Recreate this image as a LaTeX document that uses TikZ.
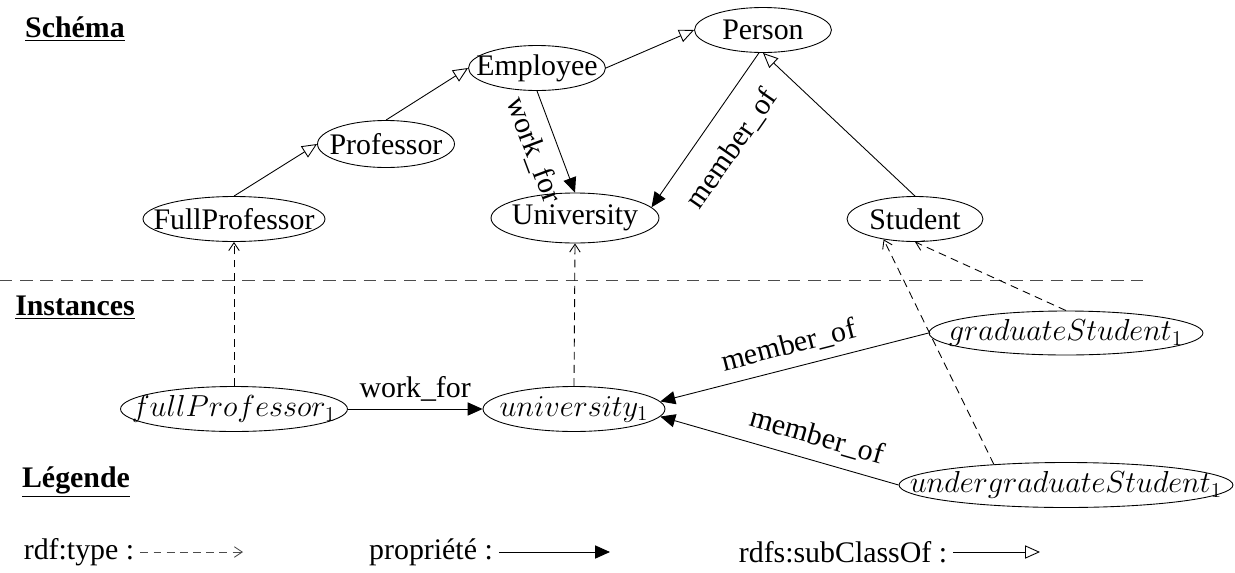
\documentclass[tikz,border=0pt]{standalone}
\usepackage{fontspec}
\setmainfont{Liberation Serif}
\newfontfamily\timesfont{Liberation Serif}
\usetikzlibrary{shapes.geometric,arrows.meta}

\newcommand{\lbl}[1]{\makebox[0pt]{#1}}

\begin{document}
\begin{tikzpicture}[x=0.02cm,y=-0.02cm,
  font=\timesfont\fontsize{17}{20}\selectfont,
  cls/.style={ellipse,draw,line width=0.5pt,inner sep=0pt,minimum height=0.9cm},
  subclass/.style={line width=0.5pt,-{Triangle[open,length=8.5pt,width=7.5pt]}},
  prop/.style={line width=0.5pt,-{Triangle[length=8.5pt,width=7.5pt]}},
  rdftype/.style={line width=0.5pt,dash pattern=on 4.5pt off 3pt,-{Straight Barb[length=4.5pt,width=6pt]}},
  title/.style={font=\timesfont\fontsize{17}{20}\selectfont\bfseries}]
  \useasboundingbox (0,0) rectangle (1235,572);

  % section titles
  \node[title] (schema) at (75,29) {\underline{Schéma}};
  \node[title] (instances) at (75,308) {\underline{Instances}};
  \node[title] (legende) at (76,482) {\underline{Légende}};
  \draw[gray!60!black,line width=0.5pt,dash pattern=on 7pt off 4.5pt] (0,280) -- (1143,280);

  % schema
  \node[cls,minimum width=2.74cm] (person) at (763,30) {\lbl{Person}};
  \node[cls,minimum width=2.74cm] (employee) at (537,68) {\lbl{Employee}};
  \node[cls,minimum width=2.74cm,minimum height=0.94cm] (professor) at (386,144) {\lbl{Professor}};
  \node[cls,minimum width=3.64cm] (fullprof) at (234,219) {\lbl{FullProfessor}};
  \node[cls,minimum width=3.36cm,minimum height=1cm] (univ) at (575,218) {\lbl{University}};
  \node[cls,minimum width=2.72cm] (student) at (915,219) {\lbl{Student}};

  \draw[subclass] (fullprof.north) -- (professor.west);
  \draw[subclass] (professor.north) -- (employee.west);
  \draw[subclass] (employee.east) -- (person.west);
  \draw[subclass] (student.north) -- (person.south);
  \draw[prop] (employee.south) -- node[midway,sloped,below=3pt] {work\_for} (univ.north);
  \draw[prop] (person.-100) -- node[midway,sloped,below=8pt] {member\_of} (univ.8);

  % instances
  \node[cls,minimum width=4.54cm] (fullprof 1) at (234,409) {\lbl{$fullProfessor_1$}};
  \node[cls,minimum width=3.64cm] (univ 1) at (574,409) {\lbl{$university_1$}};
  \node[cls,minimum width=5.48cm,minimum height=0.88cm] (grad 1) at (1066,333) {\lbl{$graduateStudent_1$}};
  \node[cls,minimum width=6.68cm] (undergrad 1) at (1066,485) {\lbl{$undergraduateStudent_1$}};

  \draw[rdftype] (fullprof 1.north) -- (fullprof.south);
  \draw[rdftype] (univ 1.north) -- (univ.south);
  \draw[rdftype] (grad 1.north) -- (student.south);
  \draw[rdftype] (undergrad 1.164.7) -- (student.-147);
  \draw[prop] (fullprof 1.east) -- node[midway,above=1pt] {work\_for} (univ 1.west);
  \draw[prop] (grad 1.west) -- node[midway,sloped,above=2pt] {member\_of} (univ 1.5);
  \draw[prop] (undergrad 1.west) -- node[pos=0.37,sloped,above=3pt] {member\_of} (univ 1.-5);

  % legend
  \node (ltype) at (79,552) {rdf:type :};
  \coordinate (ltype end) at (243,552);
  \draw[rdftype,gray!60!black] (ltype.east) -- (ltype end);
  \node (lprop) at (431,552) {propriété :};
  \coordinate (lprop end) at (610,552);
  \draw[prop] (lprop.east) -- (lprop end);
  \node (lsub) at (843,552) {rdfs:subClassOf :};
  \coordinate (lsub end) at (1040,552);
  \draw[subclass] (lsub.east) -- (lsub end);
\end{tikzpicture}
\end{document}
